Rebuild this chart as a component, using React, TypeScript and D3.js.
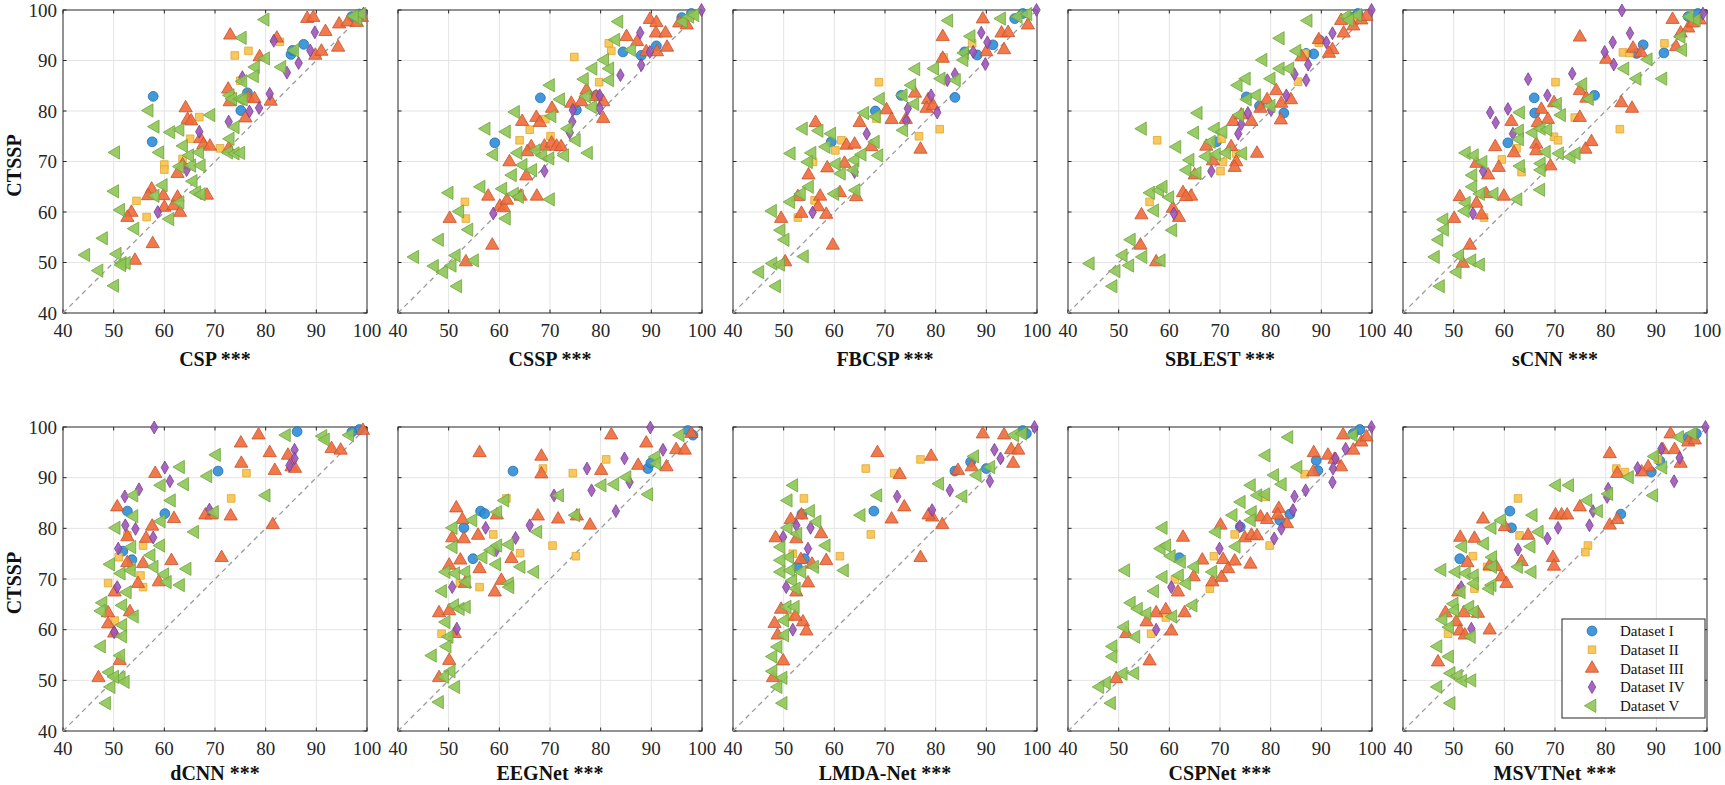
import * as d3 from 'd3';
import React, { useEffect, useRef } from 'react';

// each method: one list of [baseline, CTSSP] accuracy pairs per dataset (I..V)
type Pairs = [number, number][];

const datasets = ['Dataset I', 'Dataset II', 'Dataset III', 'Dataset IV', 'Dataset V'];
const methods = ['CSP', 'CSSP', 'FBCSP', 'SBLEST', 'sCNN', 'dCNN', 'EEGNet', 'LMDA-Net', 'CSPNet', 'MSVTNet'];
const ticks = [40, 50, 60, 70, 80, 90, 100];

const CSP: Pairs[] = [
  [[57.8,82.9],[57.6,73.9],[75.1,80.1],[76.4,83.6],[85,91.2],[85.3,92],[87.5,93.2],[97,98.7],[98.5,99.2]],
  [[73.9,91],[76.6,91.9],[82.8,93.7],[66.9,78.8],[65.1,74.5],[63.6,70.5],[71,72.6],[60,69.4],[60,68.4],[54.5,62.2],[56.5,59],[75,86]],
  [[73,95],[64.2,80.6],[64.6,78.3],[65.3,78],[67.1,74.5],[67.7,73.3],[69,73],[72.6,84.3],[72.9,81.8],[76,78.6],[76.6,82.6],[77.8,82.4],[81,81.9],[78.8,90.7],[82.2,94.4],[88.2,98.3],[89.4,98.5],[89.8,91],[91,91.8],[91.8,95.7],[94.5,97.2],[96.2,97.6],[94.3,92.6],[72.7,72.5],[63.6,69.3],[62.6,67.6],[57.5,64.5],[56.8,63.2],[59.8,63.2],[60,60.9],[61.8,61.2],[62.6,62.9],[63.1,59.9],[53.5,59.9],[52.7,58.9],[57.7,53.7],[54.2,50.4],[68.4,63.3],[98,97.5],[99,98.5]],
  [[58.7,60],[64.4,68.3],[66.9,75.9],[72.7,77.9],[76.8,79.9],[78.7,80.6],[75.4,86.7],[80.8,83.4],[84.2,87.6],[86.5,89.5],[88.8,92],[89.7,95.6],[81.6,93.9],[99.3,99.3]],
  [[79.9,98.1],[75.4,94.5],[85.7,92],[80,90.4],[78,88.7],[77.8,86.9],[75.5,85.9],[83.2,88.7],[73,83.1],[73.5,82.4],[75,82.4],[75.6,82.3],[74,76.8],[73,74.5],[72.7,71.8],[74,71.6],[75.1,71.7],[69.2,79.2],[63.1,76.3],[63.8,73.1],[61.3,75.8],[58.2,76.9],[57,80.1],[59.1,71.8],[50.4,71.8],[50.2,64.1],[51.4,60.4],[54.2,56.7],[48,54.8],[44.5,51.5],[47.1,48.4],[50.7,51.7],[51.7,49.9],[52.5,49.9],[51.6,49.5],[50.2,45.4],[59.8,65.3],[61.1,58.6],[63.1,61.9],[66.4,63.9],[67.3,63.5],[65.7,66.1],[65.4,69.2],[65,71.2],[67,71.8],[67.3,69.2],[63.1,69],[58.2,63.2],[98.2,98.3],[99,99.2],[97.5,98.8]],
];

const CSSP: Pairs[] = [
  [[68.1,82.6],[59.1,73.7],[84.4,91.7],[91,92.9],[79.1,83.1],[75.2,80.2],[97.9,99.3],[88,91],[96,98.5]],
  [[74.8,90.7],[79.7,85.7],[81.6,93.4],[82.1,91.9],[69.1,78.4],[66,76.3],[64,74.2],[70.1,75],[53.2,62],[53.4,58.7],[98.2,99]],
  [[89.7,98.1],[91,97.5],[95.5,97.4],[97,97],[85.1,94.7],[90.9,95.4],[92.8,95.4],[87.2,93.7],[89,91.7],[91.1,91.7],[93.1,92.6],[77.2,84.1],[74.2,81.5],[76.2,81.8],[80.5,81.8],[80.5,78.5],[70.4,80.5],[64.5,77.9],[67.3,78.7],[68,77.7],[66.3,72.9],[65.5,71.9],[68.9,73],[70.3,73.6],[71.3,73],[72.2,72.9],[62,69.9],[65.3,67.1],[57.8,63.1],[64.2,63.1],[67.4,63.1],[60.1,61.1],[60.9,60.8],[50.2,58.7],[58.6,53.4],[53.4,50.1],[61.5,62.3],[79.1,82.8]],
  [[87.8,95.5],[88,89.1],[83.9,87.1],[89.7,91.7],[79.8,83.1],[79.8,80.5],[74.5,80.2],[74.4,77.9],[73.9,75.7],[68.9,68.1],[58.8,59.7],[99.9,100]],
  [[83.6,97.7],[83,94.1],[86.1,92.1],[80.8,90.1],[78.5,88.4],[81.8,88.4],[81.8,86.1],[76.8,86.3],[70.1,85.1],[72.1,82.3],[77.2,82.9],[78.4,80.8],[63.2,79.8],[70.4,79],[57.4,76.5],[61.4,75.9],[58.9,71.4],[63.7,71.7],[67.3,72.2],[68.6,71.2],[70,70.6],[72.9,71.2],[75.2,74.2],[77.6,71.7],[73.6,76.5],[64.7,69.3],[66.6,68.3],[62.6,67.3],[56.4,65],[60.7,64.6],[63,63.6],[50.1,63.8],[52.2,60.1],[61.4,58.7],[54,56.5],[48.2,54.5],[43.3,51.1],[47.2,49.3],[49,48.1],[51.5,51.4],[55.1,50.4],[50.7,49.4],[51.8,45.3],[70.1,62.5],[96.3,97.7],[97.6,98.7],[98.6,99],[64,63]],
];

const FBCSP: Pairs[] = [
  [[73.2,83.1],[68.1,80],[83.8,82.7],[88.2,91.1],[91.3,93.1],[97.2,99.3],[85.7,91.7],[59.4,73.9],[95.6,98.3]],
  [[68.8,85.7],[61.4,74.2],[60.2,72.2],[68.3,78.5],[76.7,75],[80.8,76.4],[81.6,90.6],[87.2,93.4],[52.8,58.9],[55.8,69.9],[56.1,62.3]],
  [[89.3,98.2],[81.4,94.7],[81.4,90.4],[93,95.4],[94.3,95.5],[93.5,92.1],[90,91.7],[98.2,97],[75.9,83.5],[70.3,80.2],[71.3,78.3],[74.1,78.3],[78.5,82.2],[78.2,80.5],[79.5,81],[65,77.7],[56.3,77.7],[62.4,73.2],[64,73.4],[67.3,72.9],[77,72.4],[62,69.6],[58.6,68.7],[54.9,67.3],[61.1,63.8],[57.2,63.1],[52.8,63],[53.5,59.7],[58.4,59.5],[56.8,61],[49.5,58.7],[64.3,63],[59.7,53.4],[50.3,50.1]],
  [[89,95.5],[90.2,93.6],[89.8,89.3],[87.4,91.7],[83.8,87.3],[82.3,86.1],[79.1,83.1],[80.3,79.7],[74.5,80.5],[74.2,78.1],[66.4,75.5],[64,67.9],[55.7,59.9],[99.9,100]],
  [[82.6,97.9],[87,94.8],[85.7,91.5],[85.6,90.1],[76.1,88.3],[79.8,88.4],[81.1,86.4],[84.1,86.1],[75.3,85.1],[73.6,83.1],[75.9,81.4],[69.1,82.4],[66,79.6],[68.3,78.9],[73.7,76.2],[53.9,76.5],[57,76.1],[59.5,75.5],[51.5,71.6],[55.6,71.7],[54.9,69.9],[58.4,72.9],[60.4,69.5],[61.4,67.6],[64.1,70.3],[65.5,71.4],[68.1,73.9],[68.8,71.2],[63.9,68.3],[55.1,65],[53.5,63.6],[51.4,62],[60.1,63.6],[64.3,64.3],[47.8,60.2],[49.5,56.4],[50.3,54.5],[54.1,51.2],[47.9,49.8],[49.4,49.6],[45.3,48.1],[48.6,45.3],[93,98.3],[96.3,98.7],[98.2,99.2]],
];

const SBLEST: Pairs[] = [
  [[75.2,82.8],[82.6,79.6],[88.5,91.3],[87,91.4],[97.2,99.3],[69.3,73.9],[77.8,81],[89.7,94],[96,98.6]],
  [[57.6,74.2],[56.1,62],[70.3,74.5],[70.1,68.1],[70.6,69.9],[85.4,85.8],[89.5,93.5],[86.7,91.4],[73.2,71.6],[96.3,98.3]],
  [[93.9,97.9],[96.3,96.8],[94.4,95.4],[92.2,92.1],[91.5,91.4],[89.5,94.1],[86.1,90.7],[81.1,84],[79.3,82.2],[78,80.5],[82,78.2],[82.1,81.5],[84,82.2],[72.6,77.9],[76.2,77.9],[74.2,79.2],[67.3,73],[72.2,72.9],[77.3,71.6],[73.2,69.9],[72.9,68.8],[68.6,70.1],[65,67.3],[62.7,63.8],[64.3,63.1],[63.3,63],[60.7,60.7],[61.9,58.9],[54.5,59.4],[54.3,53.4],[57.4,50.1],[97.9,98],[98.9,98.7]],
  [[92.2,95.4],[91,93.6],[87.4,89.2],[87,86.1],[84.7,87.3],[83.1,83.1],[75.5,79.6],[74.2,77.4],[73.6,75.5],[68.3,68.1],[60.9,59.7],[99.9,100],[80.1,80.2]],
  [[87.4,97.9],[81.9,94.4],[85.2,91.9],[78.5,90.1],[81.9,88.4],[83.8,88.4],[80.1,86.4],[73.6,85.1],[75.2,86.4],[77.2,83.1],[75.4,82.3],[65.7,79.6],[73.9,79.2],[80.1,81],[54.7,76.5],[65,75.7],[69.1,76.5],[70.6,75.9],[61.5,72.9],[68.3,73.9],[69.3,71.4],[71.3,71.7],[74.5,71.6],[67.3,71],[64.1,70.3],[63.5,68.3],[65.5,67.7],[56.3,63.8],[58.1,64.3],[58.8,65],[60.1,62.9],[57.1,60.3],[60.7,56.4],[52.5,54.5],[50.9,51.4],[54.8,51.1],[52.2,49.4],[58.4,50.4],[44.4,49.8],[49.5,48.3],[48.9,45.3],[95,98.7],[97.2,99],[95.6,98]],
];

const SCNN: Pairs[] = [
  [[87.4,93.1],[91.5,91.5],[65.9,82.6],[66,79.6],[60.7,73.7],[77.8,83.1],[86.1,91.4],[98.2,99.3],[96.3,98.7]],
  [[91.6,93.4],[83.4,91.6],[84.7,91.5],[70.1,85.7],[82.8,76.4],[73.9,78.7],[69.8,74.9],[70.6,74.2],[62.4,72.6],[59.5,70.4],[63.4,67.9],[56,58.9]],
  [[93.2,98.1],[74.9,94.6],[94.8,95.4],[96.3,96.4],[98.6,98],[93.9,92.7],[85.4,92.4],[87,91.5],[80.1,90.2],[74.9,84],[76.2,82.5],[83.1,81.6],[85.2,80.5],[69.8,81.6],[67.3,80.3],[61.4,77.9],[68.6,78.3],[66.6,77.7],[74.9,78.7],[77.2,73.9],[76,72.4],[58.2,72.9],[61.9,71.7],[66.3,73.4],[66.3,72.1],[69.1,69.1],[58.9,68.8],[56.8,67.3],[54.5,69.6],[51.2,63],[56.4,63.6],[59.9,63.1],[54.5,61.7],[55.5,59.4],[50.1,58.7],[53.2,53.4],[51.8,49.8],[97.2,97.4]],
  [[83.2,99.9],[84.8,95.4],[81.4,93.6],[79.8,91.7],[81.6,89.2],[73.4,87.4],[64.7,86.3],[68.5,83.1],[60.7,80.4],[57.2,79.7],[58.3,77.7],[61.7,75.5],[55.8,68.1],[53.8,59.7],[99.2,99.3]],
  [[97.9,98],[96.6,98.7],[94.9,94.7],[95.2,92.1],[88.4,90.2],[83.8,88.4],[86.2,86.4],[91.3,86.4],[75.5,85.3],[76.8,82.4],[70.5,81.4],[71.3,79.2],[63.2,79.7],[63,76.1],[63,74.4],[65.7,75.7],[67.3,76.5],[68.6,76.3],[68.3,71.9],[70.9,71.6],[73.2,70.9],[74.2,71.6],[52.5,71.7],[54.1,71.2],[55.8,69.9],[53.8,67.3],[53.8,65],[55.3,63.6],[58,63.6],[62.7,62.5],[67.2,64.4],[63.2,69.1],[67.3,69.6],[67.3,68.3],[52.5,61.8],[52.3,60.2],[48.1,58.5],[48.2,56.5],[47.1,54.5],[46.4,51.1],[51.2,51.4],[53.6,50.4],[55.3,49.6],[50.7,48.1],[47.4,45.3]],
];

const DCNN: Pairs[] = [
  [[86.2,99.1],[70.6,91.3],[52.7,83.4],[60.1,82.9],[53.6,73.8],[51.8,75.5],[98.5,99.5],[97,99]],
  [[76.2,90.9],[73.2,85.9],[55.8,76.6],[52.7,78.6],[51,74.3],[48.9,69.2],[55.3,70.7],[55.8,68.4],[53.5,72.4],[50.2,61.8]],
  [[78.6,98.4],[75.1,96.8],[80.8,94.9],[75.2,92.8],[81.8,91.4],[84.4,94.4],[85.1,92.1],[85.8,91.8],[93,95.7],[94.8,95.4],[99.2,99.3],[81.4,80.7],[71.3,74.2],[58.2,90.8],[50.7,84.2],[68.1,82.6],[73.1,82.4],[61.9,81.9],[57.6,80.4],[52.7,78.3],[56.4,78],[61.4,73.6],[55.8,73],[52.7,73.2],[54.8,69.1],[58.9,69.4],[50.2,67.4],[53.2,63.5],[48.9,63.3],[48.9,61.1],[50.1,59.3],[51.2,53.9],[47,50.5],[69.3,82.6]],
  [[58,99.9],[60.1,92],[61.1,89.3],[55,87.7],[52.2,86.3],[52.3,80.6],[54.3,79.9],[57.8,78.2],[50.9,76],[50.7,68.4],[85.7,95.5],[85.7,93.8],[68.9,83.7],[50.1,59.5],[84.7,92.4]],
  [[70.3,94.5],[63.2,92.1],[64,88.7],[68.6,90.3],[59.4,88.5],[61.4,85.5],[54,86.5],[80.1,86.5],[84.1,98.4],[91.3,98.2],[91.8,97.5],[96.6,98.4],[69.9,83.2],[59.4,81.4],[54,82.4],[50.5,80.1],[66,79.3],[53.6,76.3],[59.3,76.6],[57.4,74.7],[49.4,72.9],[51.5,71.1],[53.5,71.7],[58,72.4],[60.1,70.9],[60.6,69.4],[63.2,68.8],[64.5,72],[52.7,67.4],[47.9,65.3],[47.6,63.7],[51.8,64.8],[54.1,62.6],[51.8,60.9],[51.8,58.7],[47.6,56.7],[51.4,54.9],[49.2,51.6],[51.5,50.5],[52.3,49.7],[49.5,48.7],[48.6,45.5],[50.2,50.7]],
];

const EEGNET: Pairs[] = [
  [[62.7,91.3],[56.3,83.4],[57.1,82.9],[53,80.1],[54.8,74],[89.3,91.8],[89.9,92.9],[97.2,99.3],[98.2,98.4]],
  [[68.6,91.8],[74.5,90.9],[81.1,93.6],[61.4,85.9],[58.8,78.8],[64.1,75.1],[70.5,76.6],[75.1,74.5],[56.1,68.4],[48.6,59.2],[52.2,69.2]],
  [[56.1,94.9],[68.3,94.2],[68.3,90.7],[82.1,98.4],[89,96.8],[94.9,95.5],[96.6,95.4],[97.9,98.7],[80.1,91.4],[87.4,92.4],[93,92.1],[51.5,84],[59.5,82.6],[67.6,82.4],[71.6,81.8],[75.3,82.4],[77.9,80.6],[52.7,81.7],[50.7,78.1],[53,77.9],[55.8,78.6],[62.4,74],[60.4,69.7],[59.1,67.4],[50.1,72.7],[52.3,73.7],[53.2,69.1],[56.1,72],[48.1,63.3],[50.1,63.7],[51.2,59.2],[50.1,53.9],[48.1,50.5]],
  [[89.8,99.9],[92.3,95.5],[84.7,93.8],[77.3,91.8],[85.7,89.1],[78.2,87.5],[70.8,86.5],[83,83.4],[66,80.6],[57.3,80.1],[63.2,78.1],[59.4,75.7],[50.7,68.4],[51.6,60.2]],
  [[95.7,98.4],[90.9,94.1],[85.2,90.1],[82.8,88.7],[80.3,88.5],[89.5,86.7],[91.1,92.8],[71.9,86.5],[61.1,85.5],[59.7,83.2],[75.1,82.6],[67.6,79.3],[54.8,81.6],[50.9,80.1],[50.9,76.3],[58.4,75.7],[59.7,76.6],[62,76.8],[64.3,72.4],[67,71.4],[59.5,72.9],[56.8,74.3],[49.5,71.4],[51.4,71.1],[53.4,71.4],[53.5,69.4],[48.8,67.6],[62,69.1],[62.1,68.4],[51.2,64.8],[52.3,64.1],[53.5,64.5],[49.5,61.5],[50.1,58.6],[49.7,56.7],[46.8,54.9],[50.5,51.8],[49.2,50.7],[51.4,48.7],[48.2,45.7]],
];

const LMDA: Pairs[] = [
  [[67.8,83.4],[83.8,91.3],[86.9,93.1],[90,91.8],[53.6,82.8],[54.1,74],[97.2,99.3],[52.7,72.4],[97.9,98.7]],
  [[66.2,91.8],[71.8,90.9],[77,93.6],[54,85.9],[67.2,78.8],[61.1,74.5],[51.8,75],[51.2,62.5]],
  [[68.5,94.9],[79.1,94.2],[72.9,90.6],[89.3,98.6],[93.5,98.4],[94.9,95.5],[96.3,95.4],[95.3,92.8],[84.4,91.4],[87.1,92.1],[73.8,84.2],[71.3,81.8],[79.3,82.2],[81.3,80.7],[77,74.2],[57.4,78.9],[51.4,81.7],[53.5,82.6],[48.4,78.1],[52.5,77.9],[58.4,73.6],[55.6,72.9],[53.4,73.8],[54.8,69.2],[52.5,67.4],[49.5,64],[48.2,61.2],[53.8,61.5],[54.5,59.7],[48.8,58.9],[49.9,53.8],[47.9,50.5],[52.3,62.6],[78.6,82.6]],
  [[99.5,100],[91.6,95.5],[92.8,93.8],[90.7,89.3],[82.8,87.5],[72.4,86.3],[79.3,83.6],[52.5,80.6],[55.3,80.1],[49.9,78.3],[54.8,76],[50.5,68.4],[51.8,60]],
  [[95.6,98.4],[97.2,98.7],[87.7,94.2],[88.2,90.5],[90.9,92.1],[80.8,88.8],[85.4,86.3],[68.6,86.5],[65.3,82.6],[52,88.5],[50.9,85.5],[55.3,83.4],[56.6,81.3],[50.9,80.1],[58.4,76.6],[49.5,76.3],[51.2,74.3],[56.1,72.4],[62,71.7],[49.5,71.4],[51.4,71.7],[53.6,71.4],[51.8,69.7],[52.5,68.1],[50.7,64.5],[52.3,64.5],[50.2,61.8],[50.2,58.9],[48.9,56.6],[47.9,54.7],[47.9,51.8],[49.9,50.5],[48.9,48.7],[49.9,45.5],[49.5,73.7],[52.8,78.9]],
];

const CSPNET: Pairs[] = [
  [[97.6,99.5],[89,93.4],[89.3,91.4],[83.8,82.8],[74,80.3],[62,74.2],[96.3,98.7],[81.8,81.6]],
  [[86.7,90.7],[78.8,86.2],[72.9,78.8],[68.8,74.5],[79.8,76.6],[68,68.1],[61.1,69.9],[59.3,62.4],[56.4,59.2]],
  [[94.3,98.4],[88.5,94.9],[91.3,94.4],[92.6,93.6],[93.9,92.1],[88.4,91.1],[96.3,95.4],[97.9,97],[98.9,98],[81.6,83.9],[81.4,82.6],[78,82.2],[79.3,81.7],[83.2,80.9],[70.1,80.6],[74.9,78.1],[76.2,78.6],[77.3,78.5],[62.7,78.2],[66.5,73.7],[70.6,73.8],[72.9,73.5],[71.6,72],[76,72.9],[64.8,70.4],[68.5,69.4],[70.3,70.3],[61.7,67.4],[57.4,63.3],[59.3,63.9],[63,63.3],[55.5,61.5],[60.4,59.7],[51.5,59.2],[56.1,53.8],[49.5,50.3]],
  [[99.9,100],[94.8,95.7],[92.8,93.8],[92.3,91.8],[92.2,89.1],[86.9,87.5],[84.7,86.3],[84.4,83.6],[82.1,79.9],[80.7,78],[73.9,80.4],[69.9,76],[60.4,68.4],[57.4,60]],
  [[96.3,98.4],[83.6,98],[79.1,94.4],[85.4,92.1],[80.8,90.5],[82.3,88.7],[76.2,88.5],[77.5,86.5],[79,86.7],[74.2,85.2],[76.4,83.2],[76.2,81.6],[72.6,82.6],[58.8,80.1],[69.3,79.3],[73.2,76.4],[58.4,76],[59.5,76.6],[60.4,74.5],[62.4,73.4],[65,72.4],[51.4,71.7],[58.8,70.4],[62,70.7],[63.4,69.1],[68.6,71.4],[57.1,67.6],[64.7,64.8],[60.7,62.6],[52.5,65.3],[53.9,64.1],[55.6,63.2],[51.2,60.5],[53.4,58.6],[48.9,56.7],[48.9,54.7],[53.2,51.4],[50.9,51.3],[47.6,49.5],[46.3,48.7],[48.6,45.5]],
];

const MSVTNET: Pairs[] = [
  [[61.1,83.4],[61.4,80.1],[51.2,74],[83,82.8],[89,91.1],[90.7,93.3],[97.9,98.7],[96.3,98]],
  [[62.7,85.9],[63,78.6],[53.8,74.5],[56.6,72.4],[54.1,68.1],[76.5,76.6],[76,75.3],[82.1,91.8],[83.8,91.1],[48.9,59.2],[90.3,93.6]],
  [[92.8,98.6],[80.8,94.7],[82.3,90.8],[91.3,95.5],[93.6,95.5],[94.8,92.8],[96.3,97],[97.6,97.4],[88.4,92.1],[87.1,91.1],[74.9,84.2],[70.1,82.6],[71.3,82.6],[72.4,82.6],[80.8,80.6],[82.3,81.7],[55.8,81.8],[60.1,80.3],[51.3,78.2],[54.1,78],[64.7,78.6],[69.6,74.2],[69.8,72.5],[63.4,73.4],[52.7,73.2],[57.1,72.6],[58.4,72.4],[59.4,70.4],[60.4,69.1],[50.9,67.4],[48.4,63.3],[52,63.3],[54.8,63.2],[50.5,61.5],[51.2,59.7],[52.2,58.9],[57.1,59.9],[46.9,53.6]],
  [[99.7,100],[91,95.7],[94.6,93.9],[93.5,89.3],[86.3,91.9],[80.5,87.8],[80.3,86.2],[77.5,83.4],[76.8,80.6],[70.6,80.1],[68.5,78],[62.7,75.8],[51.5,68.4],[53.5,60.2]],
  [[97.2,98.7],[94.6,98],[89.7,94.2],[91.3,92],[84.7,90.1],[80.6,86.8],[89.5,86.5],[70.3,88.5],[72.9,88.5],[76.5,85.5],[78.6,83.4],[65.7,82.6],[59.5,81.6],[57.6,80.1],[66.9,79.3],[65.3,76.4],[56.1,77],[51.8,76.4],[57.7,74.3],[47.7,71.8],[50.5,71.4],[52.5,71.1],[54.1,70.7],[54.1,69.1],[57.7,72.4],[57.6,68.8],[57.1,68.1],[62.8,72.4],[65.5,71.4],[51.5,67.4],[50.1,65.1],[50.2,63.8],[53.2,64.5],[54.1,63.5],[47.9,62],[49.2,60.5],[53.5,58.6],[46.9,56.7],[49.2,54.7],[49.5,51.4],[50.9,50.9],[51.8,49.9],[53.6,50],[46.9,48.7],[49.5,45.5]],
];

const panels = [CSP, CSSP, FBCSP, SBLEST, SCNN, DCNN, EEGNET, LMDA, CSPNET, MSVTNET];

const markers = [
  { type: d3.symbolCircle, size: 76, fill: '#2d8dd6', stroke: '#1f6fae', rotate: 0 },
  { type: d3.symbolSquare, size: 58, fill: '#f7c24a', stroke: '#dfa733', rotate: 0 },
  { type: d3.symbolTriangle, size: 76, fill: '#ee6b3b', stroke: '#c8512a', rotate: 0 },
  { type: d3.symbolDiamond, size: 48, fill: '#9c57b8', stroke: '#7a3c95', rotate: 0 },
  { type: d3.symbolTriangle, size: 76, fill: '#8ec556', stroke: '#6ea53b', rotate: -90 },
];

const FONT = '"Liberation Serif", "Times New Roman", serif';
const AXIS = '#262626';

export default function App() {
  const svgRef = useRef<SVGSVGElement | null>(null);
  const width = 1725;
  const height = 785;

  useEffect(() => {
    if (!svgRef.current) return;
    const svg = d3.select(svgRef.current);
    svg.selectAll('*').remove();

    const panelW = 304;
    const lefts = [63, 398, 733, 1068, 1403];
    const tops = [10, 427];
    const heights = [303, 304];
    const titleGap = [46, 42];

    panels.forEach((sets, i) => {
      const col = i % 5;
      const row = Math.floor(i / 5);
      const h = heights[row];
      const x = d3.scaleLinear().domain([40, 100]).range([0, panelW]);
      const y = d3.scaleLinear().domain([40, 100]).range([h, 0]);
      const g = svg.append('g').attr('transform', `translate(${lefts[col]},${tops[row]})`);

      g.append('rect').attr('width', panelW).attr('height', h).attr('fill', '#fff');

      g.selectAll('.gx').data(ticks.slice(1, -1)).join('line')
        .attr('x1', d => x(d)).attr('x2', d => x(d)).attr('y1', 0).attr('y2', h)
        .attr('stroke', '#e4e4e4').attr('stroke-width', 1);
      g.selectAll('.gy').data(ticks.slice(1, -1)).join('line')
        .attr('y1', d => y(d)).attr('y2', d => y(d)).attr('x1', 0).attr('x2', panelW)
        .attr('stroke', '#e4e4e4').attr('stroke-width', 1);

      // inward ticks on all four sides, MATLAB-style box
      const tk = 3.5;
      ticks.forEach(t => {
        g.append('line').attr('x1', x(t)).attr('x2', x(t)).attr('y1', h).attr('y2', h - tk).attr('stroke', AXIS);
        g.append('line').attr('x1', x(t)).attr('x2', x(t)).attr('y1', 0).attr('y2', tk).attr('stroke', AXIS);
        g.append('line').attr('y1', y(t)).attr('y2', y(t)).attr('x1', 0).attr('x2', tk).attr('stroke', AXIS);
        g.append('line').attr('y1', y(t)).attr('y2', y(t)).attr('x1', panelW).attr('x2', panelW - tk).attr('stroke', AXIS);
      });
      g.append('rect').attr('width', panelW).attr('height', h)
        .attr('fill', 'none').attr('stroke', AXIS).attr('stroke-width', 1);

      g.append('line')
        .attr('x1', x(40)).attr('y1', y(40)).attr('x2', x(100)).attr('y2', y(100))
        .attr('stroke', '#9a9a9a').attr('stroke-width', 1.3).attr('stroke-dasharray', '5,4');

      sets.forEach((pts, d) => {
        const m = markers[d];
        const path = d3.symbol().type(m.type).size(m.size)();
        g.append('g').selectAll('path').data(pts).join('path')
          .attr('d', path)
          .attr('transform', p => `translate(${x(p[0])},${y(p[1])}) rotate(${m.rotate})`)
          .attr('fill', m.fill).attr('fill-opacity', 0.9)
          .attr('stroke', m.stroke).attr('stroke-width', 0.8);
      });

      g.selectAll('.xl').data(ticks).join('text')
        .attr('x', d => x(d)).attr('y', h + 17).attr('dy', '0.35em')
        .attr('text-anchor', 'middle').attr('font-family', FONT).attr('font-size', 19).attr('fill', AXIS)
        .text(d => d);

      if (col === 0) {
        g.selectAll('.yl').data(ticks).join('text')
          .attr('x', -6).attr('y', d => y(d)).attr('dy', '0.35em')
          .attr('text-anchor', 'end').attr('font-family', FONT).attr('font-size', 19).attr('fill', AXIS)
          .text(d => d);
        g.append('text')
          .attr('transform', `translate(${-49},${h / 2 + 4}) rotate(-90)`)
          .attr('text-anchor', 'middle').attr('dy', '0.35em')
          .attr('font-family', FONT).attr('font-size', 20).attr('font-weight', 'bold').attr('fill', '#111')
          .text('CTSSP');
      }

      g.append('text')
        .attr('x', panelW / 2).attr('y', h + titleGap[row]).attr('dy', '0.35em')
        .attr('text-anchor', 'middle').attr('font-family', FONT).attr('font-size', 20)
        .attr('font-weight', 'bold').attr('fill', '#111')
        .text(`${methods[i]} ***`);

      if (i === panels.length - 1) {
        const lg = g.append('g').attr('transform', `translate(${159},${192})`);
        lg.append('rect').attr('width', 143).attr('height', 99)
          .attr('fill', '#fff').attr('stroke', AXIS).attr('stroke-width', 1);
        datasets.forEach((name, d) => {
          const m = markers[d];
          const cy = 12 + d * 18.7;
          lg.append('path')
            .attr('d', d3.symbol().type(m.type).size(m.size)())
            .attr('transform', `translate(30,${cy}) rotate(${m.rotate})`)
            .attr('fill', m.fill).attr('fill-opacity', 0.9)
            .attr('stroke', m.stroke).attr('stroke-width', 0.8);
          lg.append('text')
            .attr('x', 58).attr('y', cy).attr('dy', '0.35em')
            .attr('font-family', FONT).attr('font-size', 15).attr('fill', '#111')
            .text(name);
        });
      }
    });
  }, []);

  return (
    <svg
      ref={svgRef}
      width={width}
      height={height}
      style={{ position: 'absolute', left: 0, top: 0, background: '#fff' }}
    />
  );
}
